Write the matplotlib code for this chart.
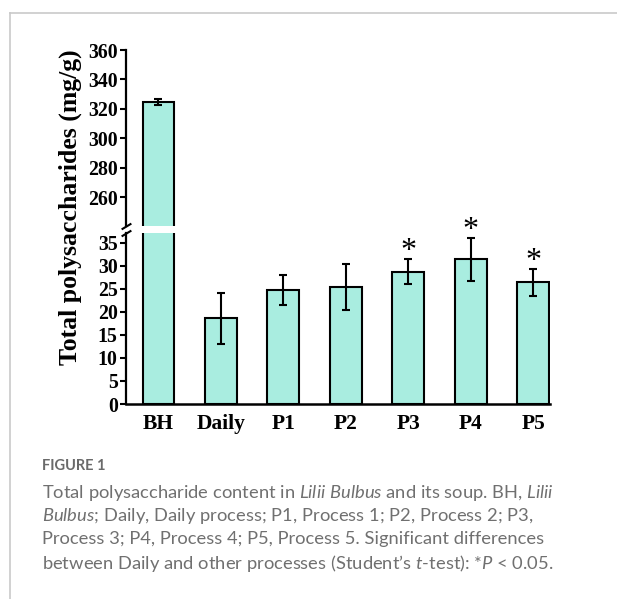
import matplotlib
matplotlib.use("Agg")
import matplotlib.pyplot as plt
from matplotlib.lines import Line2D

# data
categories = ['BH', 'Daily', 'P1', 'P2', 'P3', 'P4', 'P5']
means = [324.5, 18.6, 24.8, 25.4, 28.7, 31.4, 26.4]
errors = [2.0, 5.6, 3.3, 4.9, 2.7, 4.6, 2.9]
significant = [False, False, False, False, True, True, True]
upper_ticks = [260, 280, 300, 320, 340, 360]
lower_ticks = [0, 5, 10, 15, 20, 25, 30, 35]

caption_title = "FIGURE 1"
caption_lines = [
    r"Total polysaccharide content in $\mathit{Lilii\ Bulbus}$ and its soup. BH, $\mathit{Lilii}$",
    r"$\mathit{Bulbus}$; Daily, Daily process; P1, Process 1; P2, Process 2; P3,",
    r"Process 3; P4, Process 4; P5, Process 5. Significant differences",
    r"between Daily and other processes (Student’s $\mathit{t}$-test): *$\mathit{P}$ < 0.05.",
]

cap_font = 'Lato'
plt.rcParams['mathtext.fontset'] = 'custom'
plt.rcParams['mathtext.rm'] = cap_font
plt.rcParams['mathtext.it'] = cap_font + ':italic'

serif = 'Liberation Serif'
bar_color = '#a9ede0'
W, H = 617, 599
fig = plt.figure(figsize=(W / 100, H / 100), dpi=100)

# pixel layout of the two panels
left, right = 126, 550
top_hi, bot_hi = 50, 226.4
top_lo, bot_lo = 232.7, 404
ax_hi = fig.add_axes([left / W, 1 - bot_hi / H, (right - left) / W, (bot_hi - top_hi) / H])
ax_lo = fig.add_axes([left / W, 1 - bot_lo / H, (right - left) / W, (bot_lo - top_lo) / H])

x = list(range(len(categories)))
for ax in (ax_hi, ax_lo):
    ax.bar(x, means, width=0.51, color=bar_color, edgecolor='black', linewidth=1.5, zorder=2)
    ax.errorbar(x, means, yerr=errors, fmt='none', ecolor='black', elinewidth=1.5,
                capsize=3, capthick=1.5, zorder=3)
    ax.set_xlim(-0.52, 6.27)
    for s in ('top', 'right'):
        ax.spines[s].set_visible(False)
    ax.spines['left'].set_linewidth(1.6)
    ax.tick_params(axis='y', direction='out', length=4, width=1.5, pad=2)

ax_hi.set_ylim(240, 360)
ax_hi.set_yticks(upper_ticks)
ax_hi.spines['bottom'].set_visible(False)
ax_hi.set_xticks([])

ax_lo.set_ylim(0, 37.2)
ax_lo.set_yticks(lower_ticks)
ax_lo.spines['bottom'].set_linewidth(1.8)
ax_lo.set_xticks(x)
ax_lo.set_xticklabels(categories, fontfamily=serif, fontweight='bold', fontsize=15.5)
ax_lo.tick_params(axis='x', length=0, pad=7)

for ax in (ax_hi, ax_lo):
    for lab in ax.get_yticklabels():
        lab.set_fontfamily(serif)
        lab.set_fontweight('bold')
        lab.set_fontsize(14.3)

# significance stars
for xi, m, e, sig in zip(x, means, errors, significant):
    if sig:
        ax_lo.annotate('*', xy=(xi, m + e), xytext=(0, -5), textcoords='offset points',
                       ha='center', va='bottom', fontsize=23, fontfamily=serif)

# axis break marks
mk = [(-1, -0.6), (1, 0.6)]
ax_hi.plot([0], [0], transform=ax_hi.transAxes, marker=mk, markersize=7,
           color='black', mew=1.5, clip_on=False)
ax_lo.plot([0], [1], transform=ax_lo.transAxes, marker=mk, markersize=7,
           color='black', mew=1.5, clip_on=False)

fig.text(70 / W, 1 - 207 / H, 'Total polysaccharides (mg/g)', rotation=90,
         ha='center', va='center', fontfamily=serif, fontweight='bold', fontsize=18.5)

# frame around figure
frame_col = '#c9c9c9'
fig.add_artist(Line2D([9.5 / W, 1], [1 - 12.5 / H] * 2, color=frame_col, lw=1.2))
fig.add_artist(Line2D([9.5 / W] * 2, [0, 1 - 12.5 / H], color=frame_col, lw=1.2))

# caption
fig.text(42.5 / W, 1 - 466 / H, caption_title, ha='left', va='center',
         fontfamily='Lato', fontweight='bold', fontsize=10.5, color='#6a6a6a')
line_y = [492.7, 515.7, 539.2, 563]
for yy, txt in zip(line_y, caption_lines):
    fig.text(42.5 / W, 1 - yy / H, txt, ha='left', va='center',
             fontfamily=cap_font, fontsize=13.2, color='#707070')

fig.savefig('out.png', dpi=100)
